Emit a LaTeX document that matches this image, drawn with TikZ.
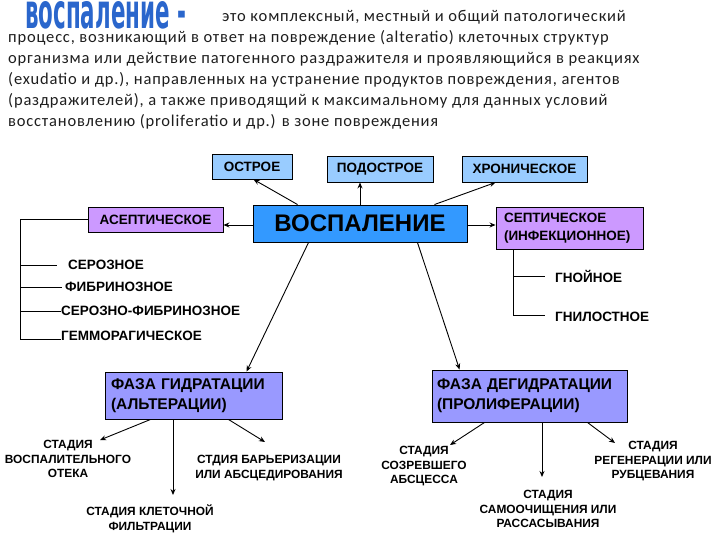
\documentclass[tikz,border=0pt]{standalone}
\usepackage{fontspec}
\setmainfont{Carlito}
\newfontfamily\arialf{Liberation Sans}
\newfontfamily\bodyf{Carlito}[LetterSpace=5]
\newfontfamily\ttlfont{DejaVu Sans}
\usetikzlibrary{arrows.meta}
\definecolor{boxlb}{HTML}{99CCFF}
\definecolor{boxmain}{HTML}{3399FF}
\definecolor{boxpur}{HTML}{CC99FF}
\definecolor{boxph}{HTML}{9999FF}
\definecolor{titleblue}{HTML}{2A66CC}
\definecolor{txt}{HTML}{1E1E1E}
\tikzset{
  bodyline/.style={anchor=base west,inner sep=0pt,text=txt,font=\bodyf\fontsize{16.5}{18}\selectfont},
  bx/.style={draw=black,line width=0.9pt,inner sep=0pt,font=\arialf\bfseries\fontsize{13.5}{16}\selectfont},
  phbox/.style={bx,fill=boxph,align=left,text width=#1,font=\arialf\bfseries\fontsize{15.5}{20}\selectfont},
  lab/.style={anchor=west,inner sep=0pt,font=\arialf\bfseries\fontsize{13.5}{16}\selectfont},
  stage/.style={anchor=north,inner sep=0pt,align=center,font=\arialf\bfseries\fontsize{11.9}{14.5}\selectfont},
  arr/.style={line width=0.9pt,-{Stealth[length=6pt,width=5pt]}},
  ln/.style={line width=0.9pt}
}
\begin{document}
\begin{tikzpicture}[x=1pt,y=-1pt]
\useasboundingbox[fill=white] (0,0) rectangle (720,540);
% title
\node[anchor=north west,inner sep=0pt,text=titleblue] (title) at (25,1)
  {\resizebox{161pt}{27pt}{\ttlfont\bfseries воспаление -}};
\node[bodyline] (l1) at (222,22) {это комплексный, местный и общий патологический};
\node[bodyline] (l2) at (8,43) {процесс, возникающий в ответ на повреждение (alteratio) клеточных структур};
\node[bodyline] (l3) at (8,64) {организма или действие патогенного раздражителя и проявляющийся в реакциях};
\node[bodyline] (l4) at (8,85) {(exudatio и др.), направленных на устранение продуктов повреждения, агентов};
\node[bodyline] (l5) at (8,106) {(раздражителей), а также приводящий к максимальному для данных условий};
\node[bodyline] (l6) at (8,127) {восстановлению (proliferatio и др.) в зоне повреждения};
% boxes
\node[bx,fill=boxlb,minimum width=80pt,minimum height=25pt] (ostroe) at (252,166.5) {ОСТРОЕ};
\node[bx,fill=boxlb,minimum width=106pt,minimum height=26pt] (podostroe) at (380,169) {ПОДОСТРОЕ};
\node[bx,fill=boxlb,minimum width=125pt,minimum height=26pt] (chron) at (524.5,169) {ХРОНИЧЕСКОЕ};
\node[bx,fill=boxmain,minimum width=214pt,minimum height=37pt,font=\arialf\bfseries\fontsize{24}{26}\selectfont] (vosp) at (360,223.5) {ВОСПАЛЕНИЕ};
\node[bx,fill=boxpur,minimum width=135pt,minimum height=25pt] (asept) at (155.5,219.5) {АСЕПТИЧЕСКОЕ};
\node[bx,fill=boxpur,minimum width=147pt,minimum height=42pt,text width=131pt,align=left,font=\arialf\bfseries\fontsize{13.5}{18}\selectfont] (sept) at (569.5,228) {СЕПТИЧЕСКОЕ\\(ИНФЕКЦИОННОЕ)};
\node[phbox=165pt,minimum width=177pt,minimum height=47pt] (ph1) at (193.5,395.5) {ФАЗА ГИДРАТАЦИИ\\(АЛЬТЕРАЦИИ)};
\node[phbox=185pt,minimum width=195pt,minimum height=52pt] (ph2) at (529.5,396) {ФАЗА ДЕГИДРАТАЦИИ\\(ПРОЛИФЕРАЦИИ)};
% connectors from main
\draw[arr] ([xshift=45pt]vosp.north west) -- ([xshift=42pt]ostroe.south west);
\draw[arr] ([xshift=-20pt]podostroe.south |- vosp.north) -- ([xshift=-20pt]podostroe.south);
\draw[arr] ([xshift=-33pt]vosp.north east) -- ([xshift=34pt]chron.south west);
\draw[arr] ([yshift=-1.5pt]vosp.west) -- ([yshift=-1.5pt]vosp.west -| asept.east);
\draw[arr] ([yshift=-1.5pt]vosp.east) -- ([yshift=-1.5pt]vosp.east -| sept.west);
\draw[arr] ([xshift=56pt]vosp.south west) -- ([xshift=142pt]ph1.north west);
\draw[arr] ([xshift=-50pt]vosp.south east) -- ([xshift=28pt]ph2.north west);
% aseptic tree
\node[lab] (seroz) at (68,265) {СЕРОЗНОЕ};
\node[lab] (fibr) at (65,287) {ФИБРИНОЗНОЕ};
\node[lab] (serfib) at (61,311) {СЕРОЗНО-ФИБРИНОЗНОЕ};
\node[lab] (gemm) at (61,336) {ГЕММОРАГИЧЕСКОЕ};
\coordinate (trA) at (20,339);
\draw[ln] (asept.west) -- (asept.west -| trA) -- (trA) -- (gemm.west |- trA);
\draw[ln] (seroz.west -| trA) -- ([xshift=-11pt]seroz.west);
\draw[ln] (fibr.west -| trA) -- ([xshift=-3pt]fibr.west);
\draw[ln] (serfib.west -| trA) -- (serfib.west);
% septic tree
\node[lab] (gnoin) at (555,276) {ГНОЙНОЕ};
\node[lab] (gnil) at (555,317) {ГНИЛОСТНОЕ};
\coordinate (trS) at (513,315);
\draw[ln] (trS |- sept.south) -- (trS) -- ([xshift=-10pt]gnil.west |- trS);
\draw[ln] (gnoin.west -| trS) -- ([xshift=-10pt]gnoin.west);
% stages
\node[stage] (st1) at (68,440) {СТАДИЯ\\ВОСПАЛИТЕЛЬНОГО\\ОТЕКА};
\node[stage] (st2) at (150,505) {СТАДИЯ КЛЕТОЧНОЙ\\ФИЛЬТРАЦИИ};
\node[stage] (st3) at (269,455) {СТДИЯ БАРЬЕРИЗАЦИИ\\ИЛИ АБСЦЕДИРОВАНИЯ};
\node[stage] (st4) at (424,446) {СТАДИЯ\\СОЗРЕВШЕГО\\АБСЦЕССА};
\node[stage] (st5) at (548,490) {СТАДИЯ\\САМООЧИЩЕНИЯ ИЛИ\\РАССАСЫВАНИЯ};
\node[stage] (st6) at (653,441) {СТАДИЯ\\РЕГЕНЕРАЦИИ ИЛИ\\РУБЦЕВАНИЯ};
\draw[arr] ([xshift=46pt]ph1.south west) -- ([xshift=32pt]st1.north);
\draw[arr,shorten >=10pt] ([xshift=-20.5pt]ph1.south) -- ([xshift=-20.5pt]ph1.south |- st2.north);
\draw[arr] ([xshift=-54pt]ph1.south east) -- ([xshift=-4pt,yshift=13pt]st3.north);
\draw[arr] ([xshift=53pt]ph2.south west) -- ([xshift=26pt,yshift=1pt]st4.north);
\draw[arr,shorten >=13pt] ([xshift=12.5pt]ph2.south) -- ([xshift=12.5pt]ph2.south |- st5.north);
\draw[arr] ([xshift=-40pt]ph2.south east) -- ([xshift=-38pt,yshift=-2pt]st6.north);
\end{tikzpicture}
\end{document}
